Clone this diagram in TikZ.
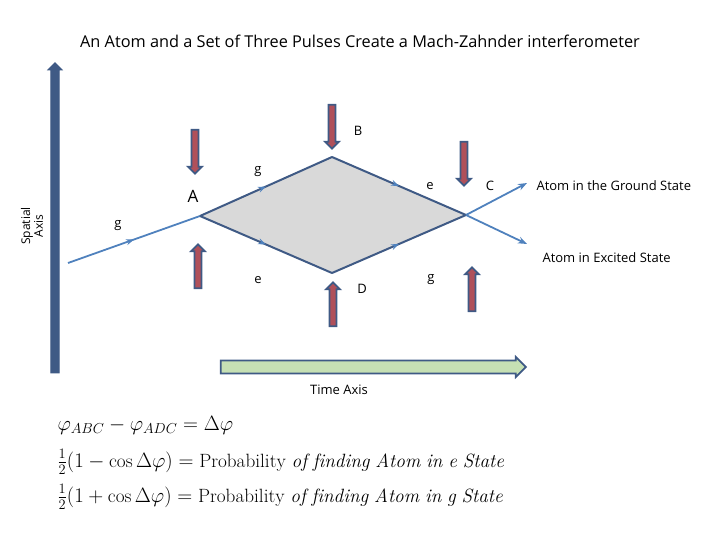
\documentclass[tikz,border=0pt]{standalone}
\usepackage{fontspec}
\setsansfont{Open Sans}
\usetikzlibrary{shapes.arrows,arrows.meta,decorations.markings}
\definecolor{edge}{HTML}{3F5A85}
\definecolor{pulse}{HTML}{B0505A}
\definecolor{beam}{HTML}{4F81BD}
\definecolor{tgreen}{HTML}{C6E0B4}
\tikzset{
 lbl/.style={font=\sffamily\fontsize{13}{15}\selectfont},
 pulsearrow/.style={single arrow, draw=edge, fill=pulse, line width=1.8pt, minimum height=44pt, minimum width=14pt, single arrow head extend=2pt, inner sep=1pt},
 beamline/.style={beam, line width=1.8pt},
 midarr/.style={decoration={markings, mark=at position 0.5 with {\arrow[beam]{Stealth[length=8pt]}}}, postaction=decorate},
 eqn/.style={anchor=west, font=\fontsize{19.2}{22}\selectfont},
}
\begin{document}
\begin{tikzpicture}[x=1pt,y=-1pt]
\useasboundingbox (0,0) rectangle (720,540);
\node[font=\sffamily\fontsize{16.3}{19}\selectfont] (title) at (360,41) {An Atom and a Set of Three Pulses Create a Mach-Zahnder interferometer};
% axes
\node[single arrow, draw=edge, fill=edge, line width=1pt, minimum height=310pt, minimum width=14pt, single arrow head extend=1pt, inner sep=1pt, rotate=90] (yax) at (55,220) {};
\node[rotate=90, align=center, font=\sffamily\fontsize{12}{11}\selectfont, inner sep=0pt] (sp) at (32,226) {Spatial\\Axis};
\node[single arrow, draw=edge, fill=tgreen, line width=1.8pt, minimum height=305pt, minimum width=20pt, single arrow head extend=1pt, inner sep=1pt] (xax) at (370,367) {};
\node[lbl] (ta) at (339,390) {Time Axis};
% diamond
\coordinate (A) at (200,216);
\coordinate (B) at (332,157);
\coordinate (C) at (466,215);
\coordinate (D) at (332,273);
\coordinate (S) at (68,263);
\coordinate (G) at (527,183);
\coordinate (E) at (527,244);
\fill[gray!30] (A) -- (B) -- (C) -- (D) -- cycle;
\draw[beamline, midarr] (S) -- (A);
\draw[edge, line width=2pt, midarr] (A) -- (B);
\draw[edge, line width=2pt, midarr] (B) -- (C);
\draw[edge, line width=2pt, midarr] (A) -- (D);
\draw[edge, line width=2pt, midarr] (D) -- (C);
\draw[beamline, -{Stealth[length=9pt]}] (C) -- (G);
\draw[beamline, -{Stealth[length=9pt]}] (C) -- (E);
% pulses
\node[pulsearrow, rotate=-90] (p1) at (195,150) {};
\node[pulsearrow, rotate=-90] (p2) at (332,125) {};
\node[pulsearrow, rotate=-90] (p3) at (464,162) {};
\node[pulsearrow, rotate=90] (p4) at (198,268) {};
\node[pulsearrow, rotate=90] (p5) at (333,306) {};
\node[pulsearrow, rotate=90] (p6) at (472,291) {};
% labels
\node[font=\sffamily\fontsize{17}{20}\selectfont] (la) at (193,196) {A};
\node[lbl] (lb) at (358,131) {B};
\node[lbl] (lc) at (490,186) {C};
\node[lbl] (ld) at (362,289) {D};
\node[lbl] (g1) at (258,172) {g};
\node[lbl] (e1) at (430,186) {e};
\node[lbl] (g0) at (118,226) {g};
\node[lbl] (e2) at (258,280) {e};
\node[lbl] (g2) at (431,280) {g};
\node[lbl, anchor=west] (gs) at (533,186) {Atom in the Ground State};
\node[lbl, anchor=west] (es) at (539,258) {Atom in Excited State};
% equations
\node[eqn] (eq1) at (54,425) {$\varphi_{ABC}-\varphi_{ADC}=\Delta\varphi$};
\node[eqn] (eq2) at (54,462) {$\frac{1}{2}(1-\cos\Delta\varphi)=\mathrm{Probability}\ \mathit{of\ finding\ Atom\ in\ e\ State}$};
\node[eqn] (eq3) at (54,497) {$\frac{1}{2}(1+\cos\Delta\varphi)=\mathrm{Probability}\ \mathit{of\ finding\ Atom\ in\ g\ State}$};
\end{tikzpicture}
\end{document}
